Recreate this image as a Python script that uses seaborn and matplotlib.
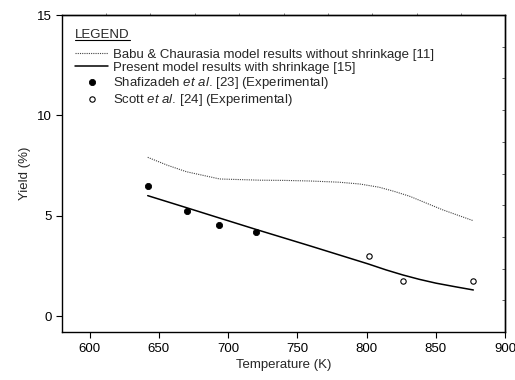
import numpy as np
import pandas as pd
import matplotlib
matplotlib.use("Agg")
import matplotlib.pyplot as plt
from matplotlib.lines import Line2D
import seaborn as sns

# ---- data ----
babu_T = [642, 656, 670, 694, 723, 740, 759, 780, 795, 809, 820, 831, 843, 855, 866, 877]
babu_Y = [7.91, 7.52, 7.19, 6.83, 6.77, 6.76, 6.73, 6.67, 6.58, 6.42, 6.21, 5.97, 5.63, 5.29, 5.02, 4.75]

present_T = [642, 670, 694, 720, 759, 780, 801, 814, 826, 838, 850, 864, 877]
present_Y = [6.0, 5.4, 4.88, 4.32, 3.5, 3.05, 2.6, 2.3, 2.05, 1.83, 1.64, 1.46, 1.3]

shaf_T = [642.4, 670.2, 693.5, 720.5]
shaf_Y = [6.48, 5.25, 4.55, 4.2]

scott_T = [801.5, 826.3, 876.5]
scott_Y = [2.99, 1.76, 1.76]

x_ticks = [600, 650, 700, 750, 800, 850, 900]
y_ticks = [0, 5, 10, 15]

FS = 9.5

sns.set_style("ticks")
plt.rcParams['font.family'] = ['Liberation Sans', 'DejaVu Sans']
plt.rcParams['mathtext.fontset'] = 'custom'
plt.rcParams['mathtext.rm'] = 'Liberation Sans'
plt.rcParams['mathtext.it'] = 'Liberation Sans:italic'
plt.rcParams['ytick.direction'] = 'in'

fig = plt.figure(figsize=(5.15, 3.8), dpi=100)
ax = fig.add_axes([0.120, 0.126, 0.861, 0.8345])

sns.lineplot(x=babu_T, y=babu_Y, ax=ax, color="#444444", lw=0.8,
             linestyle=(0, (1, 1)),
             label="Babu & Chaurasia model results without shrinkage [11]")
sns.lineplot(x=present_T, y=present_Y, ax=ax, color="black", lw=1.1,
             label="Present model results with shrinkage [15]")
sns.scatterplot(x=shaf_T, y=shaf_Y, ax=ax, color="black", s=20,
                edgecolor="black", linewidth=0.6, zorder=5,
                label=r"Shafizadeh $\it{et\ al.}\,$[23] (Experimental)")
sns.scatterplot(x=scott_T, y=scott_Y, ax=ax, facecolor="white", s=15,
                edgecolor="black", linewidth=0.8, zorder=5,
                label=r"Scott $\it{et\ al.}\,$[24] (Experimental)")

ax.set_xlim(580, 900)
ax.set_ylim(-0.8, 15)
ax.set_xticks(x_ticks)
ax.set_yticks(y_ticks)
ax.set_xlabel("Temperature (K)", fontsize=FS, labelpad=3)
ax.set_ylabel("Yield (%)", fontsize=FS, labelpad=4)
ax.tick_params(axis="both", labelsize=FS, length=4, width=0.8, direction="out",
               colors="black")
for s in ax.spines.values():
    s.set_visible(True)
    s.set_linewidth(1.0)
    s.set_color("black")

# top and right secondary ticks (10 equal divisions)
secx = ax.secondary_xaxis('top')
secx.set_xticks(np.linspace(580, 900, 11)[1:-1])
secx.set_xticklabels([])
secx.tick_params(length=1.5, width=0.6, direction="out", colors="#666666")
secx.spines['top'].set_linewidth(1.0)
secy = ax.secondary_yaxis('right')
secy.set_yticks(np.linspace(-0.8, 15, 11)[1:-1])
secy.set_yticklabels([])
secy.tick_params(length=2.5, width=0.6, direction="in", colors="#444444")
secy.spines['right'].set_linewidth(1.0)

leg = ax.legend(loc="upper left", bbox_to_anchor=(0.009, 0.984), frameon=False,
                fontsize=FS, title="LEGEND", title_fontsize=FS, alignment="left",
                handlelength=2.5, handletextpad=0.4, labelspacing=0.07,
                borderaxespad=0.4, borderpad=0.3)
leg._legend_box.sep = 5

fig.canvas.draw()
tb = leg.get_title().get_window_extent()
inv = fig.transFigure.inverted()
(x0, y0), (x1, y1) = inv.transform([(tb.x0, tb.y0 + 1), (tb.x1, tb.y0 + 1)])
fig.add_artist(Line2D([x0, x1], [y0, y1], color="black", lw=0.8,
                      transform=fig.transFigure))

fig.savefig("out.png", dpi=100)
